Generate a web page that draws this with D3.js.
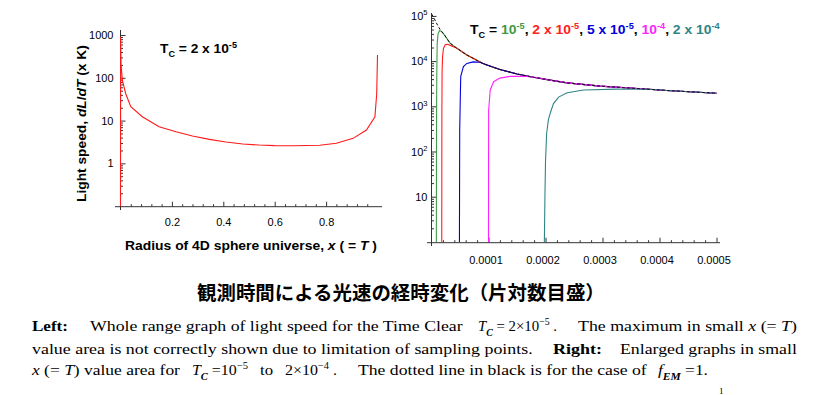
<!DOCTYPE html>
<html>
<head>
<meta charset="utf-8">
<script src="https://cdn.jsdelivr.net/npm/d3@7"></script>
<style>
body { margin: 0; background: #fff; }
svg { display: block; }
.tick text { font-family: Arial, "Liberation Sans", sans-serif; font-size: 11px; fill: #000; }
.tick line { stroke: #333; }
</style>
</head>
<body>
<svg id="fig" width="821" height="395"></svg>
<script>
// ---- data ----

// left panel: Tc = 2e-5, whole range
const leftX = [0, 0.0004, 0.002, 0.007, 0.02, 0.04, 0.085, 0.15, 0.216, 0.28, 0.346, 0.41, 0.476, 0.54, 0.6, 0.67, 0.775, 0.84, 0.905, 0.957, 0.99, 0.997, 1.0];
const leftV = [0.1, 900, 218, 89, 43, 21, 12.3, 7.2, 5.5, 4.35, 3.64, 3.15, 2.83, 2.68, 2.6, 2.58, 2.64, 2.94, 3.84, 6.0, 12.3, 43, 340];
const leftYTicks = [1, 10, 100, 1000];
const leftXTicks = [0.2, 0.4, 0.6, 0.8];

// right panel: envelope (f_EM = 1, dotted black)
const envX = [0, 3.2e-6, 8e-6, 1.5e-5, 2.2e-5, 3.25e-5, 4.4e-5, 6.2e-5, 9.1e-5, 1.2e-4, 1.5e-4, 1.79e-4, 2.08e-4, 2.38e-4, 2.96e-4, 3.55e-4, 4.13e-4, 5.0e-4];
const envV = [1.1e5, 9.6e4, 7.2e4, 5.0e4, 3.9e4, 2.5e4, 1.94e4, 1.37e4, 8.7e3, 6.5e3, 5.2e3, 4.4e3, 3.8e3, 3.3e3, 2.8e3, 2.5e3, 2.24e3, 1.95e3];

// each Tc curve until it joins the envelope
const tcNames = ["1e-5", "2e-5", "5e-5", "1e-4", "2e-4"];
const tcColors = ["#3f9a45", "#ff2020", "#0000dd", "#ff22ff", "#2f8585"];
const tc1X = [8.5e-6, 8.8e-6, 9.3e-6, 1.0e-5, 1.15e-5, 1.4e-5, 1.7e-5, 2.2e-5];
const tc1V = [1, 300, 6000, 2.5e4, 4.0e4, 4.7e4, 4.6e4, 3.9e4];
const tc2X = [1.8e-5, 1.82e-5, 1.86e-5, 1.95e-5, 2.1e-5, 2.4e-5, 2.8e-5, 3.4e-5, 4.4e-5];
const tc2V = [1, 800, 6000, 1.3e4, 1.9e4, 2.3e4, 2.35e4, 2.2e4, 1.94e4];
const tc3X = [4.9e-5, 4.95e-5, 5.05e-5, 5.13e-5, 5.6e-5, 6.2e-5, 7.3e-5, 8.5e-5, 1.0e-4];
const tc3V = [1, 300, 1500, 4.6e3, 7.6e3, 8.9e3, 9.6e3, 9.4e3, 8.0e3];
const tc4X = [1.0e-4, 1.002e-4, 1.03e-4, 1.09e-4, 1.2e-4, 1.38e-4, 1.67e-4, 1.9e-4, 2.08e-4];
const tc4V = [1, 800, 2.3e3, 3.5e3, 4.2e3, 4.6e3, 4.6e3, 4.2e3, 3.8e3];
const tc5X = [1.98e-4, 1.99e-4, 2.0e-4, 2.02e-4, 2.05e-4, 2.09e-4, 2.14e-4, 2.23e-4, 2.38e-4, 2.67e-4, 3.25e-4, 3.84e-4, 4.13e-4];
const tc5V = [1, 10, 60, 250, 500, 750, 1150, 1600, 2000, 2300, 2400, 2380, 2240];
const rightYTicks = [10, 100, 1000, 10000, 100000];
const rightYLabels = [["10", ""], ["10", "2"], ["10", "3"], ["10", "4"], ["10", "5"]];
const rightXTicks = [0.0001, 0.0002, 0.0003, 0.0004, 0.0005];
const rightXLabels = ["0.0001", "0.0002", "0.0003", "0.0004", "0.0005"];

const titleText = "観測時間による光速の経時変化（片対数目盛）";

const svg = d3.select("#fig");
const sans = "Arial, 'Liberation Sans', sans-serif";
const serif = "'Times New Roman', 'Liberation Serif', serif";

// rich text helper: parts = [text, flags, colour], flags may hold b / i / sub / sup
function rich(x, y, parts, size, family, weight, targetW, rotate) {
  const t = svg.append("text")
    .attr("font-size", size)
    .attr("font-family", family)
    .attr("font-weight", weight || "normal")
    .style("white-space", "pre");
  let shift = 0;
  parts.forEach(p => {
    const flags = p[1] || "";
    const ts = t.append("tspan").text(p[0]);
    let want = 0;
    if (flags.includes("sub")) want = size * 0.3;
    if (flags.includes("sup")) want = -size * 0.42;
    ts.attr("dy", want - shift);
    shift = want;
    if (flags.includes("sub") || flags.includes("sup")) ts.attr("font-size", size * 0.66);
    if (flags.includes("i")) ts.attr("font-style", "italic");
    if (flags.includes("b")) ts.attr("font-weight", "bold");
    if (p[2]) ts.attr("fill", p[2]);
  });
  let tr = `translate(${x},${y})` + (rotate ? ` rotate(${rotate})` : "");
  if (targetW) {
    const w = t.node().getComputedTextLength();
    tr += ` scale(${targetW / w},1)`;
  }
  t.attr("transform", tr);
  return t;
}

function minorLog(decades) {
  const out = [];
  decades.forEach(d => { for (let k = 2; k <= 9; k++) out.push(d * k); });
  return out;
}

// ---------------- left panel ----------------
const xL = d3.scaleLinear().domain([0, 1]).range([120.5, 377.5]);
const yL = d3.scaleLog().domain([0.097, 1310]).range([206.7, 30]);

svg.append("g").attr("transform", "translate(120.5,0)")
  .call(d3.axisLeft(yL).tickValues(leftYTicks).tickFormat(d3.format("d")).tickSize(-5).tickPadding(7))
  .call(g => g.select(".domain").remove());
svg.append("g").attr("transform", "translate(120.5,0)")
  .call(d3.axisLeft(yL).tickValues(minorLog([0.1, 1, 10, 100])).tickFormat("").tickSize(-2.5))
  .call(g => g.select(".domain").remove());

svg.append("g").attr("transform", "translate(0,206.7)")
  .call(d3.axisBottom(xL).tickValues(leftXTicks).tickSize(-5).tickPadding(12))
  .call(g => g.select(".domain").remove());
svg.append("g").attr("transform", "translate(0,206.7)")
  .call(d3.axisBottom(xL).tickValues(d3.range(1, 25).map(i => i * 0.04).filter(v => Math.abs(v * 5 - Math.round(v * 5)) > 1e-6)).tickFormat("").tickSize(-2.5))
  .call(g => g.select(".domain").remove());

svg.append("line").attr("x1", 120.5).attr("x2", 120.5).attr("y1", 30).attr("y2", 210).attr("stroke", "#333");
svg.append("line").attr("x1", 115).attr("x2", 382).attr("y1", 206.7).attr("y2", 206.7).attr("stroke", "#333");

svg.append("clipPath").attr("id", "clipL").append("rect").attr("x", 119).attr("y", 28).attr("width", 265).attr("height", 179);
svg.append("path")
  .datum(leftX.map((x, i) => [x, leftV[i]]))
  .attr("clip-path", "url(#clipL)")
  .attr("fill", "none").attr("stroke", "#ff1a1a").attr("stroke-width", 1.1)
  .attr("d", d3.line().x(d => xL(d[0])).y(d => yL(d[1])));

rich(160, 53, [["T"], ["C", "sub"], [" = 2 x 10"], ["-5", "sup"]], 13, sans, "bold", 77);
rich(86, 202, [["Light speed, "], ["dL", "i"], ["/"], ["dT", "i"], [" (x K)"]], 13.5, sans, "bold", 157, -90);
rich(125, 250, [["Radius of 4D sphere universe, "], ["x", "i"], [" ( = "], ["T", "i"], [" )"]], 13.5, sans, "bold", 252);

// ---------------- right panel ----------------
const xR = d3.scaleLinear().domain([0, 0.0005]).range([431.5, 716.5]);
const yR = d3.scaleLog().domain([0.96, 1.16e5]).range([242.7, 13]);

svg.append("g").attr("transform", "translate(431.5,0)")
  .call(d3.axisLeft(yR).tickValues(rightYTicks).tickFormat("").tickSize(-5).tickPadding(4))
  .call(g => g.select(".domain").remove())
  .call(g => g.selectAll(".tick text").each(function(d, i) {
    const lab = rightYLabels[i];
    const t = d3.select(this);
    t.append("tspan").text(lab[0]);
    if (lab[1]) t.append("tspan").text(lab[1]).attr("font-size", 7.5).attr("dy", -4.5);
  }));
svg.append("g").attr("transform", "translate(431.5,0)")
  .call(d3.axisLeft(yR).tickValues(minorLog([1, 10, 100, 1000, 10000])).tickFormat("").tickSize(-2.5))
  .call(g => g.select(".domain").remove());

svg.append("g").attr("transform", "translate(-3,242.7)")
  .call(d3.axisBottom(xR).tickValues(rightXTicks).tickFormat((d, i) => rightXLabels[i]).tickSize(0).tickPadding(14))
  .call(g => g.select(".domain").remove());
svg.append("g").attr("transform", "translate(0,242.7)")
  .call(d3.axisBottom(xR).tickValues(rightXTicks).tickFormat("").tickSize(-5))
  .call(g => g.select(".domain").remove());
svg.append("g").attr("transform", "translate(0,242.7)")
  .call(d3.axisBottom(xR).tickValues(d3.range(1, 25).map(i => i * 0.00002).filter(v => Math.abs(v * 10000 - Math.round(v * 10000)) > 1e-6)).tickFormat("").tickSize(-2.5))
  .call(g => g.select(".domain").remove());

svg.append("line").attr("x1", 431.5).attr("x2", 431.5).attr("y1", 13).attr("y2", 246).attr("stroke", "#333");
svg.append("line").attr("x1", 427).attr("x2", 720).attr("y1", 242.7).attr("y2", 242.7).attr("stroke", "#333");

svg.append("clipPath").attr("id", "clipR").append("rect").attr("x", 432).attr("y", 10).attr("width", 290).attr("height", 232.5);
const gR = svg.append("g").attr("clip-path", "url(#clipR)");
const lineR = d3.line().x(d => xR(d[0])).y(d => yR(d[1]));

const heads = [[tc1X, tc1V], [tc2X, tc2V], [tc3X, tc3V], [tc4X, tc4V], [tc5X, tc5V]];
heads.forEach(([hx, hv], k) => {
  const pts = hx.map((x, i) => [x, hv[i]]);
  const last = hx[hx.length - 1];
  envX.forEach((x, i) => { if (x > last) pts.push([x, envV[i]]); });
  gR.append("path").datum(pts)
    .attr("fill", "none").attr("stroke", tcColors[k]).attr("stroke-width", 1.1)
    .attr("d", lineR);
});
gR.append("path").datum(envX.map((x, i) => [x, envV[i]]))
  .attr("fill", "none").attr("stroke", "#111").attr("stroke-width", 1)
  .attr("stroke-dasharray", "3,2")
  .attr("d", lineR);

rich(470, 34, [
  ["T"], ["C", "sub"], [" = "],
  ["10", "", tcColors[0]], ["-5", "sup", tcColors[0]], [", "],
  ["2 x 10", "", tcColors[1]], ["-5", "sup", tcColors[1]], [", "],
  ["5 x 10", "", tcColors[2]], ["-5", "sup", tcColors[2]], [", "],
  ["10", "", tcColors[3]], ["-4", "sup", tcColors[3]], [", "],
  ["2 x 10", "", tcColors[4]], ["-4", "sup", tcColors[4]]
], 13, sans, "bold", 250);

// ---------------- title + caption ----------------
rich(197, 300, [[titleText]], 19, "'Noto Sans CJK JP', sans-serif", "bold", 408);

rich(32, 331, [["Left:", "b"]], 15, serif, "normal", 36);
rich(90, 331, [["Whole range graph of light speed for the Time Clear"]], 15, serif, "normal", 373);
rich(478, 331, [["T", "i"], ["C", "i sub"], [" = 2×10"], ["−5", "sup"], [" ."]], 15, serif, "normal", 79);
rich(578, 331, [["The maximum in small "], ["x", "i"], [" (= "], ["T", "i"], [")"]], 15, serif, "normal", 219);

rich(32, 354, [["value area is not correctly shown due to limitation of sampling points."]], 15, serif, "normal", 501);
rich(553, 354, [["Right:", "b"]], 15, serif, "normal", 49);
rich(620, 354, [["Enlarged graphs in small"]], 15, serif, "normal", 177);

rich(32, 375, [["x", "i"], [" (= "], ["T", "i"], [") value area for"]], 15, serif, "normal", 148);
rich(192, 375, [["T", "i"], ["C", "i sub"], [" =10"], ["−5", "sup"]], 15, serif, "normal", 56);
rich(260, 375, [["to"]], 15, serif, "normal", 13);
rich(285, 375, [["2×10"], ["−4", "sup"], [" ."]], 15, serif, "normal", 52);
rich(358, 375, [["The dotted line in black is for the case of"]], 15, serif, "normal", 289);
rich(658, 375, [["f", "i"], ["EM", "i sub"], [" =1."]], 15, serif, "normal", 50);

svg.append("text").attr("x", 719).attr("y", 394).attr("font-size", 9).attr("font-family", serif).text("1");
</script>
</body>
</html>
